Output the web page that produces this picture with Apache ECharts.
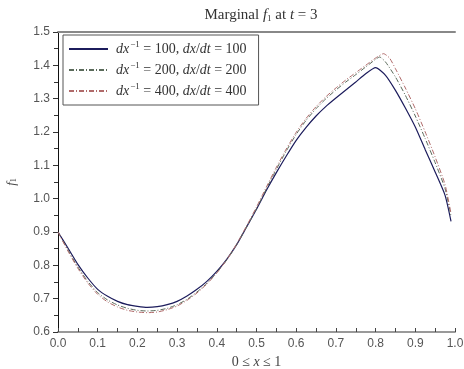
<!DOCTYPE html>
<html><head><meta charset="utf-8">
<script src="https://cdn.jsdelivr.net/npm/echarts@6/dist/echarts.min.js"></script>
<style>html,body{margin:0;padding:0;background:#fff}#c{width:464px;height:369px}</style>
</head><body><div id="c"></div>
<script>
var seriesNames = ['dx^-1=100, dx/dt=100', 'dx^-1=200, dx/dt=200', 'dx^-1=400, dx/dt=400'];
var legendNums = ['100', '200', '400'];
var xTicks = [0, 0.1, 0.2, 0.3, 0.4, 0.5, 0.6, 0.7, 0.8, 0.9, 1.0];
var yTicks = [0.6, 0.7, 0.8, 0.9, 1.0, 1.1, 1.2, 1.3, 1.4, 1.5];

var x1 = [0,0.025,0.05,0.075,0.1,0.125,0.15,0.175,0.2,0.225,0.25,0.275,0.3,0.325,0.35,0.375,0.4,0.425,0.45,0.475,0.5,0.525,0.55,0.575,0.6,0.625,0.65,0.675,0.7,0.725,0.75,0.775,0.8,0.825,0.85,0.875,0.9,0.925,0.95,0.975,0.99];
var y1 = [0.900,0.852,0.803,0.762,0.728,0.707,0.692,0.682,0.677,0.674,0.676,0.682,0.692,0.708,0.728,0.752,0.782,0.818,0.862,0.915,0.968,1.025,1.078,1.128,1.175,1.214,1.248,1.277,1.302,1.326,1.350,1.375,1.393,1.370,1.325,1.272,1.215,1.147,1.080,1.010,0.932];

var x2 = [0,0.025,0.05,0.075,0.1,0.125,0.15,0.175,0.2,0.225,0.25,0.275,0.3,0.325,0.35,0.375,0.4,0.425,0.45,0.475,0.5,0.525,0.55,0.575,0.6,0.625,0.65,0.675,0.7,0.725,0.75,0.775,0.8,0.81,0.825,0.85,0.875,0.9,0.925,0.95,0.975,0.99];
var y2 = [0.900,0.846,0.795,0.752,0.718,0.696,0.681,0.671,0.665,0.663,0.665,0.671,0.682,0.698,0.720,0.746,0.778,0.816,0.862,0.915,0.970,1.030,1.088,1.143,1.193,1.235,1.270,1.300,1.326,1.350,1.372,1.395,1.418,1.425,1.410,1.365,1.310,1.248,1.180,1.108,1.030,0.948];

var x3 = [0,0.025,0.05,0.075,0.1,0.125,0.15,0.175,0.2,0.225,0.25,0.275,0.3,0.325,0.35,0.375,0.4,0.425,0.45,0.475,0.5,0.525,0.55,0.575,0.6,0.625,0.65,0.675,0.7,0.725,0.75,0.775,0.8,0.82,0.835,0.85,0.875,0.9,0.925,0.95,0.975,0.99];
var y3 = [0.900,0.843,0.791,0.747,0.713,0.690,0.675,0.665,0.660,0.658,0.660,0.667,0.678,0.695,0.717,0.744,0.777,0.817,0.864,0.918,0.975,1.035,1.094,1.149,1.199,1.241,1.276,1.306,1.332,1.356,1.378,1.400,1.422,1.435,1.422,1.390,1.332,1.270,1.200,1.125,1.042,0.955];

function pairs(xs, ys) { return xs.map(function (x, i) { return [x, ys[i]]; }); }

var serif = 'Liberation Serif';
var chart = echarts.init(document.getElementById('c'));
chart.setOption({
  animation: false,
  backgroundColor: '#fff',
  title: {
    text: 'Marginal {i|f}{sub|1} at {i|t} = 3',
    left: 256, textAlign: 'center', top: 3,
    textStyle: {
      fontFamily: serif, fontSize: 15, fontWeight: 'normal', color: '#333',
      rich: {
        i: { fontFamily: serif, fontSize: 15, fontStyle: 'italic', color: '#333' },
        sub: { fontFamily: serif, fontSize: 9, color: '#333', padding: [6, 0, 0, 0] }
      }
    }
  },
  legend: {
    orient: 'vertical', left: 63, top: 35,
    padding: [5, 12, 7, 5],
    borderColor: '#555', borderWidth: 1,
    itemWidth: 39, itemHeight: 14, itemGap: 5,
    itemStyle: { opacity: 0 },
    data: seriesNames,
    formatter: function (name) {
      var k = legendNums[seriesNames.indexOf(name)];
      return '{i|dx}{s|−1}{n| = ' + k + ', }{i|dx}{n|/}{i|dt}{n| = ' + k + '}';
    },
    textStyle: {
      fontFamily: serif, fontSize: 14, color: '#333', padding: [0, 0, 0, 3],
      rich: {
        i: { fontFamily: serif, fontSize: 14, fontStyle: 'italic', color: '#333' },
        n: { fontFamily: serif, fontSize: 14, color: '#333' },
        s: { fontFamily: serif, fontSize: 9, color: '#333', padding: [0, 0, 9, 1] }
      }
    }
  },
  grid: { left: 58, right: 9, top: 32, bottom: 37, outerBoundsMode: 'none' },
  xAxis: [{
    type: 'value', min: 0, max: 1, interval: 0.1,
    name: '0 ≤ {i|x} ≤ 1', nameLocation: 'middle', nameGap: 17,
    nameTextStyle: { fontFamily: serif, fontSize: 14, color: '#444',
      rich: { i: { fontFamily: serif, fontSize: 14, fontStyle: 'italic', color: '#444' } } },
    axisLine: { lineStyle: { color: '#999', width: 2 } },
    axisTick: { inside: true, length: 4, lineStyle: { color: '#444' } },
    minorTick: { show: true, splitNumber: 2, length: 4, lineStyle: { color: '#444' } },
    splitLine: { show: false },
    axisLabel: { fontFamily: 'Liberation Sans', fontSize: 12, color: '#555', margin: 6,
      formatter: function (v) { return v.toFixed(1); } }
  }, {
    type: 'value', min: 0, max: 1, position: 'top',
    axisLine: { lineStyle: { color: '#888', width: 2 } },
    axisTick: { show: false }, axisLabel: { show: false }, splitLine: { show: false }
  }],
  yAxis: [{
    type: 'value', min: 0.6, max: 1.5, interval: 0.1,
    name: '{i|f}{sub|1}', nameLocation: 'middle', nameGap: 40,
    nameTextStyle: { fontFamily: serif, fontSize: 13, color: '#444',
      rich: { i: { fontFamily: serif, fontSize: 13, fontStyle: 'italic', color: '#444' },
              sub: { fontFamily: serif, fontSize: 8, color: '#444', padding: [5, 0, 0, 0] } } },
    axisLine: { lineStyle: { color: '#111', width: 1 } },
    axisTick: { inside: false, length: 5, lineStyle: { color: '#333' } },
    minorTick: { show: true, splitNumber: 2, length: 4, lineStyle: { color: '#333' } },
    splitLine: { show: false },
    axisLabel: { fontFamily: 'Liberation Sans', fontSize: 12, color: '#555', margin: 8,
      formatter: function (v) { return v.toFixed(1); } }
  }, {
    type: 'value', min: 0.6, max: 1.5, position: 'right',
    axisLine: { show: true, lineStyle: { color: '#111', width: 1 } },
    axisTick: { show: false }, axisLabel: { show: false }, splitLine: { show: false }
  }],
  series: [{
    name: seriesNames[0], type: 'line', data: pairs(x1, y1), symbol: 'none', smooth: 0.2,
    lineStyle: { color: '#1c1c5c', width: 1.2, type: 'solid' }, itemStyle: { color: '#1c1c5c' }
  }, {
    name: seriesNames[1], type: 'line', data: pairs(x2, y2), symbol: 'none', smooth: 0.2,
    lineStyle: { color: '#5a6a5a', width: 1, type: [5, 2, 1, 2] }, itemStyle: { color: '#5a6a5a' }
  }, {
    name: seriesNames[2], type: 'line', data: pairs(x3, y3), symbol: 'none', smooth: 0.2,
    lineStyle: { color: '#b06a6a', width: 1, type: [5, 2, 1, 2] }, itemStyle: { color: '#b06a6a' }
  }]
});
</script>
</body></html>
